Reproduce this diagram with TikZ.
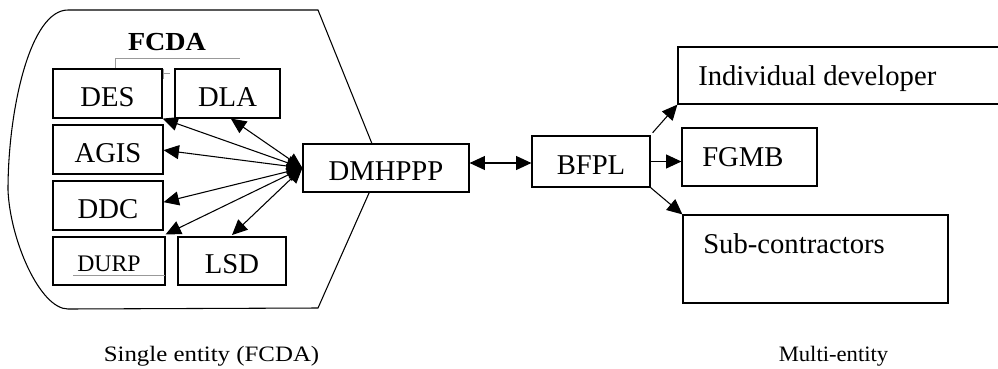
\documentclass[tikz,border=0pt]{standalone}
\usepackage{fontspec}
\setmainfont{Liberation Serif}
\usetikzlibrary{arrows.meta}
\definecolor{thingray}{HTML}{999999}
\begin{document}
\begin{tikzpicture}[x=0.75pt,y=-0.75pt,
  box/.style 2 args={draw=black, line width=0.9pt, fill=white, inner sep=0pt,
    minimum width={#1*0.75pt}, minimum height={#2*0.75pt}},
  mtxt/.style={font=\fontsize{21.5}{24}\selectfont, text height=18.8pt, text depth=0pt},
  ltxt/.style={font=\fontsize{21.5}{24}\selectfont, anchor=base west, inner sep=0pt},
  conn/.style={line width=0.8pt, {Triangle[length=11.5pt,width=10.5pt]}-{Triangle[length=11.5pt,width=10.5pt]}},
  oneway/.style={line width=0.8pt, -{Triangle[length=11.5pt,width=10.5pt]}},
  outline/.style={draw=black, line width=0.8pt},
  faint/.style={draw=thingray, line width=0.5pt},
  foot/.style={font=\fontsize{16.5}{19}\selectfont, anchor=base, inner sep=0pt}]
\useasboundingbox (0,0) rectangle (998,368);
\clip (0,0) rectangle (998,368);

% outer single-entity outline
\draw[outline] (68,10) -- (318,10) -- (381,166) -- (318,308) -- (68,309)
  .. controls (40,309) and (10,240) .. (8,190)
  .. controls (8,110) and (30,10) .. (68,10) -- cycle;

% FCDA title and faint lines
\node[font=\fontsize{19.5}{22}\selectfont\bfseries, anchor=base, inner sep=0pt] (fcda) at (167,50) {\scalebox{1.08}[1]{FCDA}};
\draw[faint] (115,69) -- (115,58) -- (240,58);
\draw[faint] (163,69) -- (163,79);
\draw[faint] (163,73) -- (170,73);

% inner boxes
\node[box={109}{49}, mtxt, text height=20pt] (des) at (107.5,93.5) {DES};
\node[box={105}{49}, mtxt, text height=20pt] (dla) at (227.5,93.5) {DLA};
\node[box={110}{49}, mtxt] (agis) at (108,149.5) {AGIS};
\node[box={110}{49}, mtxt] (ddc) at (108,205.5) {DDC};
\node[box={112}{48}, font=\fontsize{17.8}{20}\selectfont, text height=16pt, text depth=0pt] (durp) at (109,261) {DURP};
\draw[faint] (73,275) -- (165,275);
\node[box={108}{48}, mtxt] (lsd) at (232,261) {LSD};

% hub and multi-entity boxes
\node[box={166}{48}, mtxt] (dmh) at (386,168) {DMHPPP};
\node[box={118}{51}, mtxt] (bfpl) at (591,161.5) {BFPL};
\node[box={326}{57}] (indiv) at (841,75.5) {};
\node[ltxt] (indivT) at (698,85) {Individual developer};
\node[box={135}{58}] (fgmb) at (749.5,157) {};
\node[ltxt] (fgmbT) at (702,166.7) {FGMB};
\node[box={265}{88}] (sub) at (815.5,259) {};
\node[ltxt] (subT) at (703,253) {Sub-contractors};

% connectors inside FCDA
\draw[conn] (des.south east) -- (dmh.west);
\draw[conn] ([xshift=2.5pt]dla.south) -- (dmh.west);
\draw[conn] ([yshift=-0.5pt]agis.east) -- (dmh.west);
\draw[conn] ([yshift=2.5pt]ddc.east) -- (dmh.west);
\draw[conn] ([yshift=1.5pt]durp.north east) -- (dmh.west);
\draw[conn] ([yshift=1pt]lsd.north) -- (dmh.west);

% hub to BFPL and outward
\draw[conn] (dmh.east |- 0,163) -- (bfpl.west |- 0,163);
\draw[oneway] ([xshift=1.5pt,yshift=2pt]bfpl.north east) -- (indiv.south west);
\draw[oneway] (bfpl.east) -- (bfpl.east -| fgmb.west);
\draw[oneway] (bfpl.south east) -- (sub.north west);

% footers
\node[foot] (single) at (211.5,361) {\scalebox{1.13}[1]{Single entity (FCDA)}};
\node[foot] (multi) at (833.5,361) {\scalebox{1.03}[1]{Multi-entity}};
\end{tikzpicture}
\end{document}
